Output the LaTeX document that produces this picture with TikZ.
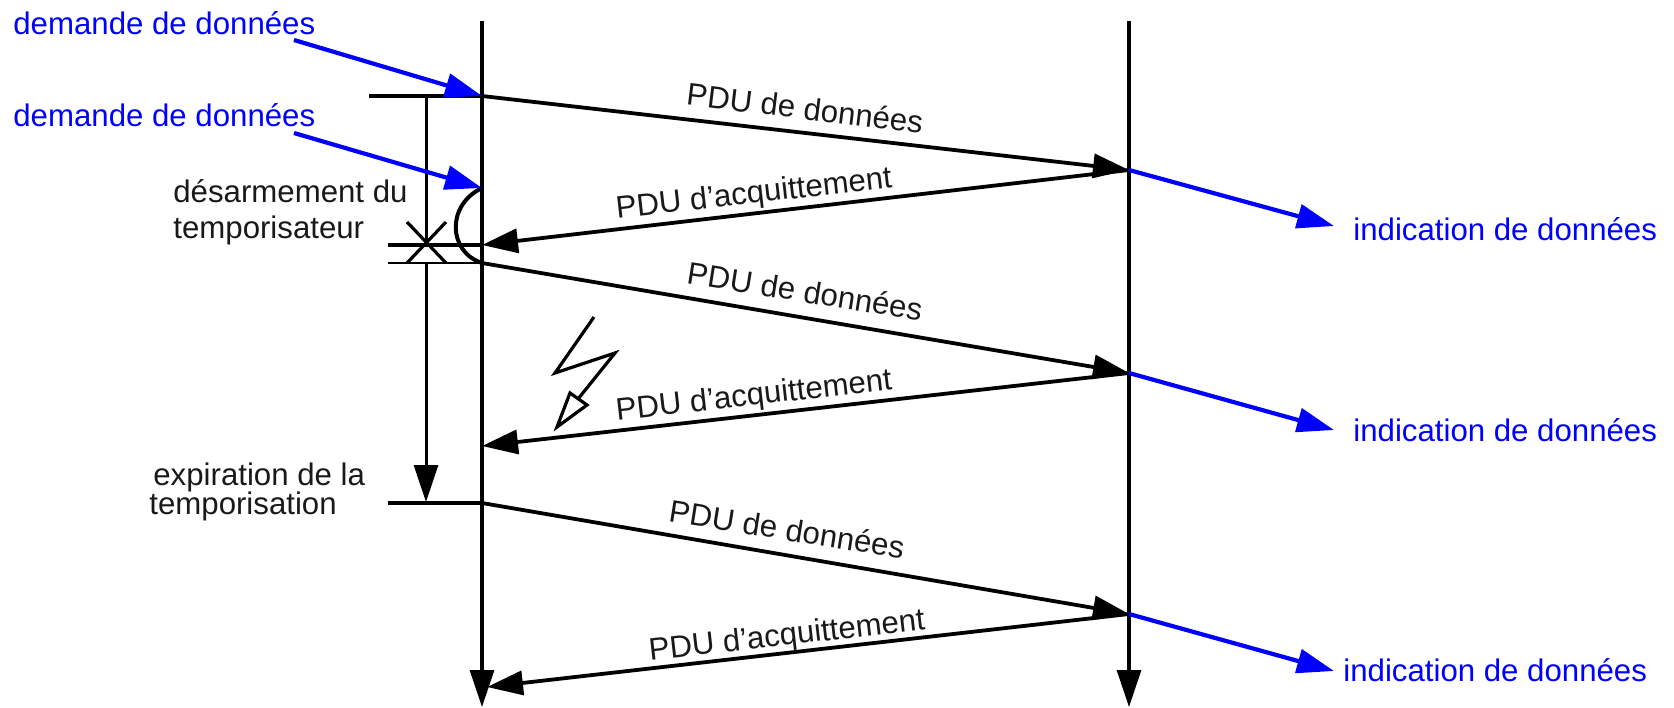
\documentclass[tikz,border=0pt]{standalone}
\usepackage{fontspec}
\setmainfont{Liberation Sans}
\usetikzlibrary{arrows.meta}
\definecolor{pureblue}{rgb}{0,0,1}
\tikzset{
  axisline/.style={line width=1.6pt,-{Triangle[length=18.5pt,width=12pt]}},
  pduline/.style={line width=1.9pt,-{Triangle[length=18pt,width=12pt]}},
  blueline/.style={color=pureblue,line width=2.1pt,-{Triangle[length=18.5pt,width=12pt]}},
  tickline/.style={line width=2pt},
  bluelabel/.style={anchor=west,inner sep=0pt,text=pureblue,font=\fontsize{15.6}{18}\selectfont},
  pdulabel/.style={inner sep=0pt,text=black!90,font=\fontsize{15.6}{18}\selectfont},
  timerlabel/.style={anchor=west,inner sep=0pt,align=left,text=black!90,font=\fontsize{15.6}{18}\selectfont}
}
\begin{document}
\begin{tikzpicture}[x=0.5pt,y=-0.5pt]
  \useasboundingbox(0,0)rectangle(1674,707);
  % time axes
  \coordinate(lt)at(482,21);
  \coordinate(lb)at(482,707);
  \coordinate(rt)at(1129,21);
  \coordinate(rb)at(1129,707);
  \draw[axisline](lt)--(lb);
  \draw[axisline](rt)--(rb);
  % events on the left axis
  \coordinate(s1)at(482,96);
  \coordinate(s2)at(482,245);
  \coordinate(s3)at(482,263);
  \coordinate(s4)at(482,446);
  \coordinate(s5)at(482,503);
  \coordinate(s6)at(487,687);
  \coordinate(q)at(482,188);
  % events on the right axis
  \coordinate(r1)at(1129,170);
  \coordinate(r2)at(1129,373);
  \coordinate(r3)at(1129,614);
  % tick marks
  \coordinate(t1)at(369,96);
  \coordinate(t2)at(388,245);
  \coordinate(t3)at(388,263);
  \coordinate(t5)at(388,503);
  \draw[tickline](t1)--(s1);
  \draw[tickline](t2)--(s2);
  \draw[line width=1.2pt](t3)--(s3);
  \draw[tickline](t5)--(s5);
  % timer
  \coordinate(a)at(426,96);
  \coordinate(b)at(426,245);
  \coordinate(c)at(426,263);
  \coordinate(d)at(426,502);
  \draw[line width=1.5pt](a)--(b);
  \draw[line width=1.5pt,-{Triangle[length=18.5pt,width=12pt]}](c)--(d);
  \draw[line width=1.6pt](407,222)--(446,263);
  \draw[line width=1.6pt](446,222)--(407,263);
  \draw[line width=2pt](q)..controls(446,205)and(448,252)..(s3);
  % PDU
  \draw[pduline](s1)--(r1);
  \draw[pduline](r1)--(s2);
  \draw[pduline](s3)--(r2);
  \draw[pduline](r2)--(s4);
  \draw[pduline](s5)--(r3);
  \draw[pduline](r3)--(s6);
  % requests
  \coordinate(u1)at(294,40);
  \coordinate(u2)at(294,133);
  \draw[blueline](u1)--(s1);
  \draw[blueline](u2)--(q);
  % indications
  \coordinate(v1)at(1334,226);
  \coordinate(v2)at(1334,430);
  \coordinate(v3)at(1334,671);
  \draw[blueline](r1)--(v1);
  \draw[blueline](r2)--(v2);
  \draw[blueline](r3)--(v3);
  % lightning
  \draw[line width=1.6pt](594,317)--(555,373)--(615,353)--(578,399);
  \draw[line width=1.6pt,fill=white](557,427)--(570,393)--(587,405)--cycle;
  % labels
  \node[bluelabel](n1)at(13,23){demande de données};
  \node[bluelabel](n2)at(13,115){demande de données};
  \node[bluelabel](n3)at(1353,229){indication de données};
  \node[bluelabel](n4)at(1353,430){indication de données};
  \node[bluelabel](n5)at(1343,670){indication de données};
  \node[timerlabel](e1)at(173,212){désarmement du\\temporisateur};
  \node[timerlabel](e2)at(153,477){expiration de la};
  \node[timerlabel](e3)at(149,506){temporisation};
  \node[pdulabel,rotate=-7](p1)at(805,108){PDU de données};
  \node[pdulabel,rotate=6.5](p2)at(754,195){PDU d’acquittement};
  \node[pdulabel,rotate=-9](p3)at(805,291){PDU de données};
  \node[pdulabel,rotate=6.5](p4)at(754,397){PDU d’acquittement};
  \node[pdulabel,rotate=-9](p5)at(787,529){PDU de données};
  \node[pdulabel,rotate=6.5](p6)at(787,637){PDU d’acquittement};
\end{tikzpicture}
\end{document}
